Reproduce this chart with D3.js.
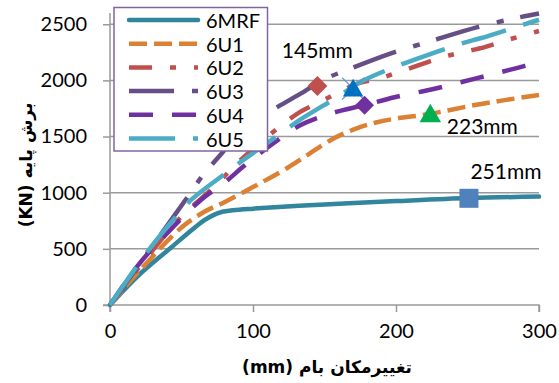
<!DOCTYPE html>
<html><head><meta charset="utf-8">
<script src="https://cdn.jsdelivr.net/npm/d3@7"></script>
<style>
html,body{margin:0;padding:0;background:#fff;}
svg{display:block;}
</style></head>
<body>
<svg id="c" width="559" height="383"></svg>
<script>
// ---- data ----
const xTicks = [0, 100, 200, 300];
const yTicks = [0, 500, 1000, 1500, 2000, 2500];
const seriesNames = ["6MRF", "6U1", "6U2", "6U3", "6U4", "6U5"];
const s6MRF = [[0,0],[20,265],[43,515],[66,755],[73,805],[78,828],[86,844],[100,858],[150,895],[200,925],[251,952],[300,965]];
const s6U1 = [[0,0],[20,296],[50,690],[66,830],[80,915],[100,1050],[124,1220],[156,1480],[172,1570],[186,1625],[200,1660],[223,1700],[254,1778],[275,1822],[300,1870]];
const s6U2 = [[0,0],[25,410],[49,775],[71,1030],[93,1310],[117,1570],[133,1720],[144,1790],[174,1975],[188,2015],[201,2070],[217,2140],[233,2208],[247,2252],[262,2296],[277,2356],[300,2440]];
const s6U3 = [[0,0],[30,530],[56,993],[65,1156],[77,1333],[95,1590],[110,1710],[133,1880],[150,2010],[165,2089],[197,2243],[226,2356],[257,2474],[287,2563],[300,2595]];
const s6U4 = [[0,0],[20,360],[43,680],[64,940],[81,1100],[93,1230],[110,1400],[133,1600],[154,1704],[178,1780],[199,1850],[227,1926],[256,2018],[285,2112],[300,2163]];
const s6U5 = [[0,0],[27,489],[48,815],[57,940],[80,1165],[93,1289],[121,1541],[133,1650],[161,1867],[175,1985],[202,2134],[215,2193],[246,2330],[259,2375],[291,2504],[300,2540]];
const markerX = [145, 170, 178, 224, 251];
const markerY = [1951, 1927, 1778, 1700, 950];
const labelTexts = ["145mm", "", "", "223mm", "251mm"];
const xTitle = "(mm) تغییرمکان بام";
const yTitle = "(KN) برش پایه";

// ---- styles ----
const seriesData = [s6MRF, s6U1, s6U2, s6U3, s6U4, s6U5];
const colors = ["#31859C", "#DC8133", "#C0504D", "#664E86", "#7030A0", "#4BACC6"];
const dashes = [null, "18,7", "23,18,6,18", "45,18,7,17", "24,19", "46,18"];
const widths = [4.5, 4.5, 4.5, 4.5, 4.5, 4.5];

const svg = d3.select("#c");
const x = d3.scaleLinear().domain([0, 300]).range([110, 539]);
const y = d3.scaleLinear().domain([0, 2600]).range([305, 13]);
const font = "Lato, 'Liberation Sans', Arial, sans-serif";

// grid lines
svg.append("g").selectAll("line").data(yTicks.filter(d => d > 0)).join("line")
  .attr("x1", x(0)).attr("x2", x(300))
  .attr("y1", d => y(d)).attr("y2", d => y(d))
  .attr("stroke", "#9a9a9a").attr("stroke-width", 1.5);

// axes
const yAxis = d3.axisLeft(y).tickValues(yTicks).tickSize(7).tickPadding(16).tickFormat(d3.format("d"));
const gy = svg.append("g").attr("transform", `translate(${x(0)},0)`).call(yAxis);
const xAxis = d3.axisBottom(x).tickValues(xTicks).tickSize(7).tickPadding(12).tickFormat(d3.format("d"));
const gx = svg.append("g").attr("transform", `translate(0,${y(0)})`).call(xAxis);
[gx, gy].forEach(g => {
  g.select(".domain").attr("stroke", "#9a9a9a").attr("stroke-width", 1.5);
  g.selectAll(".tick line").attr("stroke", "#9a9a9a").attr("stroke-width", 1.5);
  g.selectAll(".tick text").attr("fill", "#000").style("font-family", font).style("font-size", "20px");
});
gy.select(".domain").attr("d", `M-7,${y(0)}H0V${y(2600)}`);
gx.select(".domain").attr("d", `M${x(0)},7V0H${x(300)}V7`);

// series
const line = d3.line().x(d => x(d[0])).y(d => y(d[1])).curve(d3.curveCatmullRom.alpha(0.5));
seriesData.forEach((s, i) => {
  svg.append("path").attr("d", line(s)).attr("fill", "none")
    .attr("stroke", colors[i]).attr("stroke-width", widths[i])
    .attr("stroke-dasharray", dashes[i])
    .attr("stroke-linecap", i === 0 ? "round" : "butt")
    .attr("stroke-linejoin", "round");
});

// markers
const mk = svg.append("g");
const mColors = ["#C0504D", "#0070C0", "#7030A0", "#00B050", "#4F81BD"];
const mShapes = [d3.symbolSquare, d3.symbolTriangle, d3.symbolSquare, d3.symbolTriangle, d3.symbolSquare];
const mSizes = [200, 180, 180, 200, 361];
const mRot = [45, 0, 45, 0, 0];
// thin X behind the blue triangle
{
  const cx = x(markerX[1]), cy = y(markerY[1]);
  mk.append("path").attr("d", `M${cx-11},${cy-11}L${cx+11},${cy+11}M${cx+11},${cy-11}L${cx-11},${cy+11}`)
    .attr("stroke", "#5B8FD0").attr("stroke-width", 1.2);
}
markerX.forEach((mx, i) => {
  const sy = mShapes[i] === d3.symbolTriangle ? 2 : 0;
  mk.append("path")
    .attr("d", d3.symbol().type(mShapes[i]).size(mSizes[i])())
    .attr("transform", `translate(${x(mx)},${y(markerY[i]) + sy}) rotate(${mRot[i]})`)
    .attr("fill", mColors[i]);
});

// labels
const lOff = [[0, -36], null, null, [52, 11], [37, -28]];
labelTexts.forEach((t, i) => {
  if (!t) return;
  svg.append("text").text(t)
    .attr("x", x(markerX[i]) + lOff[i][0]).attr("y", y(markerY[i]) + lOff[i][1])
    .attr("text-anchor", "middle").attr("dominant-baseline", "central")
    .style("font-family", font).style("font-size", "21px").attr("fill", "#000");
});

// axis titles
svg.append("text").text(xTitle)
  .attr("x", 327).attr("y", 367).attr("text-anchor", "middle").attr("dominant-baseline", "central")
  .style("font-family", "'DejaVu Sans', sans-serif").style("font-weight", "bold").style("font-size", "17px");
svg.append("text").text(yTitle)
  .attr("transform", "translate(26,165) rotate(-90)")
  .attr("text-anchor", "middle").attr("dominant-baseline", "central")
  .style("font-family", "'DejaVu Sans', sans-serif").style("font-weight", "bold").style("font-size", "17px");

// legend
const lg = svg.append("g");
lg.append("rect").attr("x", 114).attr("y", 7.5).attr("width", 153.5).attr("height", 143.5)
  .attr("fill", "#fff").attr("stroke", "#8064A2").attr("stroke-width", 1.5);
seriesNames.forEach((n, i) => {
  const ly = 20 + i * 23.7;
  lg.append("line").attr("x1", 129).attr("x2", 198).attr("y1", ly).attr("y2", ly)
    .attr("stroke", colors[i]).attr("stroke-width", widths[i])
    .attr("stroke-dasharray", dashes[i])
    .attr("stroke-linecap", i === 0 ? "round" : "butt");
  lg.append("text").text(n).attr("x", 206).attr("y", ly).attr("dominant-baseline", "central")
    .style("font-family", font).style("font-size", "20px").attr("fill", "#000");
});
</script>
</body></html>
